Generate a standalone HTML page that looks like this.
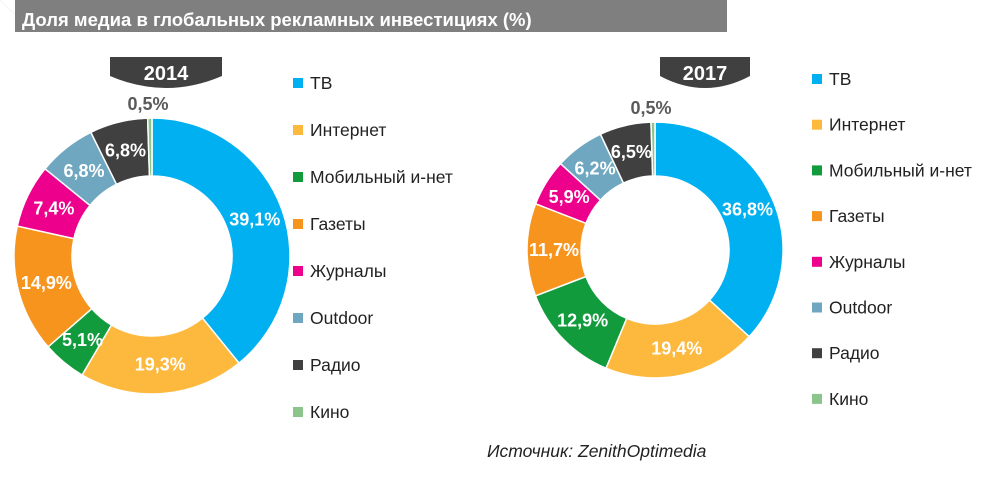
<!DOCTYPE html>
<html><head><meta charset="utf-8"><style>
body{margin:0;background:#fff;width:985px;height:484px;overflow:hidden;font-family:"Liberation Sans","DejaVu Sans",sans-serif}
</style></head><body>
<svg width="985" height="484" xmlns="http://www.w3.org/2000/svg">
<polygon points="15,0 727,0 727,32 15,32 15,14 0,0" fill="#7f7f7f"/>
<polygon points="0,0 15,0 15,14" fill="#fff"/>
<text x="22" y="26" font-size="18.5" font-weight="bold" fill="#fff">Доля медиа в глобальных рекламных инвестициях  (%)</text>
<g id="charts"></g>
<text x="487" y="457" font-size="17.5" font-style="italic" fill="#222">Источник: ZenithOptimedia</text>
</svg>
<script>
const categories=["ТВ","Интернет","Мобильный и-нет","Газеты","Журналы","Outdoor","Радио","Кино"];
const years=["2014","2017"];
const values2014=[39.1,19.3,5.1,14.9,7.4,6.8,6.8,0.5];
const values2017=[36.8,19.4,12.9,11.7,5.9,6.2,6.5,0.5];
const colors=["#00b0f0","#fdb93e","#129b3d","#f7941d","#ec008c","#6fa7c0","#404040","#8bc58b"];
const layouts=[
 {cx:152,cy:256,ro:138,ri:80,tab:[110,222],lx:293,ly:83,ls:47,vals:values2014},
 {cx:655,cy:250,ro:128,ri:74,tab:[660,750],lx:812,ly:79,ls:45.7,vals:values2017}
];
const NS="http://www.w3.org/2000/svg";
const g=document.getElementById('charts');
function mk(t,a,p){const e=document.createElementNS(NS,t);for(const k in a)e.setAttribute(k,a[k]);(p||g).appendChild(e);return e;}
function pt(cx,cy,r,a){return [cx+r*Math.sin(a),cy-r*Math.cos(a)];}
layouts.forEach((L,i)=>{
 const grp=mk('g',{});
 
 
 const x0=L.tab[0],x1=L.tab[1];
 const tab=mk('path',{d:`M${x0},57 L${x1},57 L${x1},76 Q${(x0+x1)/2},100 ${x0},76 Z`,fill:'#404040'},grp);
 
 
 const yt=mk('text',{x:(x0+x1)/2,y:80,'text-anchor':'middle','font-size':20,'font-weight':'bold',fill:'#fff'},grp);
 yt.textContent=years[i];
 
 
 const tot=L.vals.reduce((a,b)=>a+b,0);
 let a=0;
 L.vals.forEach((v,j)=>{
  const a1=a+v/tot*2*Math.PI;
  const large=(a1-a)>Math.PI?1:0;
  const p1=pt(L.cx,L.cy,L.ro,a),p2=pt(L.cx,L.cy,L.ro,a1),p3=pt(L.cx,L.cy,L.ri,a1),p4=pt(L.cx,L.cy,L.ri,a);
  const s=mk('path',{d:`M${p1} A${L.ro},${L.ro} 0 ${large} 1 ${p2} L${p3} A${L.ri},${L.ri} 0 ${large} 0 ${p4} Z`,fill:colors[j],stroke:'#fff','stroke-width':1.5},grp);
  
  
  const m=(a+a1)/2;
  const lab=String(v).replace('.',',')+'%';
  let t;
  if(v<2){
   t=mk('text',{x:L.cx-4,y:L.cy-L.ro-8,'text-anchor':'middle','font-size':18,'font-weight':'bold',fill:'#595959'},grp);
  }else{
   const q=pt(L.cx,L.cy,(L.ro+L.ri)/2,m);
   t=mk('text',{x:q[0],y:q[1]+6,'text-anchor':'middle','font-size':18,'font-weight':'bold',fill:'#fff'},grp);
  }
  t.textContent=lab;
  
  
  a=a1;
 });
 categories.forEach((c,j)=>{
  const y=L.ly+j*L.ls;
  const sq=mk('rect',{x:L.lx,y:y-5,width:10,height:10,fill:colors[j]},grp);
  
  
  const lt=mk('text',{x:L.lx+17,y:y+6,'font-size':17.5,fill:'#222'},grp);
  lt.textContent=c;
  
  
 });
});
</script>
</body></html>
